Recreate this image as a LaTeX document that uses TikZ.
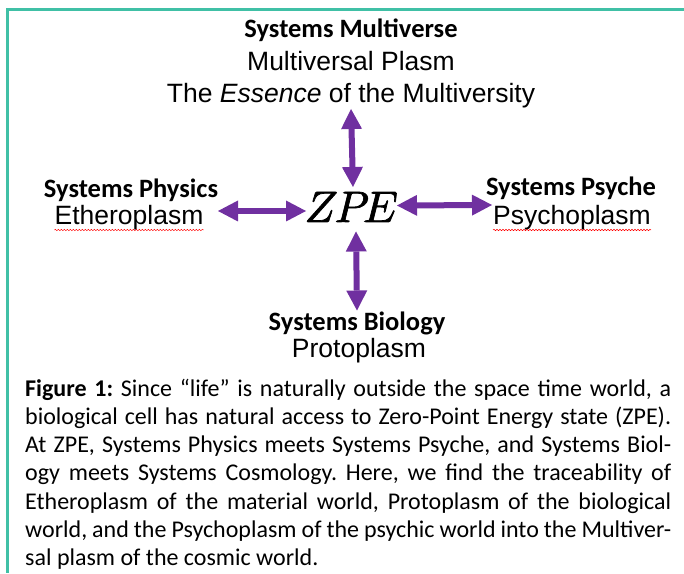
\documentclass[tikz,border=0pt]{standalone}
\usepackage{fontspec}
\setmainfont{Carlito}
\newfontfamily\arialf{Liberation Sans}
\newfontfamily\zpefont[FakeBold=1.6]{latinmodern-math.otf}
\usetikzlibrary{arrows.meta,decorations.pathmorphing}
\definecolor{zpurple}{RGB}{112,48,160}
\definecolor{framecol}{RGB}{64,192,166}
\tikzset{
  title/.style={font=\fontsize{26.5}{30}\selectfont\bfseries, inner sep=0pt, anchor=base},
  plasm/.style={font=\arialf\fontsize{26.5}{30}\selectfont, inner sep=0pt, anchor=base},
  dblarrow/.style={draw=zpurple, line width=6pt,
    {Triangle[width=21pt,length=20pt,line width=0pt]}-{Triangle[width=21pt,length=20pt,line width=0pt]}},
  spellwave/.style={draw=red, line width=0.5pt, decorate,
    decoration={snake, amplitude=0.7pt, segment length=3pt}}
}
\begin{document}
\frenchspacing
\begin{tikzpicture}[x=1pt,y=1pt]
\useasboundingbox (0,0) rectangle (684,573);
% frame
\draw[framecol, line width=2.5pt] (684,563.5) -- (7.5,563.5) -- (7.5,0);
% top
\node[title] (sm) at (351,535) {Systems Multiverse};
\node[plasm] (mp) at (351,502) {Multiversal Plasm};
\node[plasm] (ess) at (351,470) {The \textit{Essence} of the Multiversity};
% left
\node[title] (sphys) at (131,375) {Systems Physics};
\node[plasm] (eth) at (129,348) {Etheroplasm};
% right
\node[title] (spsy) at (571,377) {Systems Psyche};
\node[plasm] (psy) at (572,348) {Psychoplasm};
% bottom
\node[title] (sbio) at (357,243) {Systems Biology};
\node[plasm] (proto) at (359,216) {Protoplasm};
% centre
\node[font=\zpefont\fontsize{44}{50}\selectfont, inner sep=0pt, anchor=base] (zpe) at (350,351) {𝑍𝑃𝐸};
% arrow ends
\coordinate (uT) at (351,464);
\coordinate (uB) at (353,386);
\coordinate (dT) at (356,341.5);
\coordinate (dB) at (357,262.5);
\coordinate (lL) at (218,362);
\coordinate (lR) at (306,362);
\coordinate (rL) at (397,367.5);
\coordinate (rR) at (492,368);
\draw[dblarrow] (uT) -- (uB);
\draw[dblarrow] (dT) -- (dB);
\draw[dblarrow] (lL) -- (lR);
\draw[dblarrow] (rL) -- (rR);
% spell-check underlines
\pgfmathwidth{"\arialf\fontsize{26.5}{30}\selectfont Multiversal"}
\let\mvw\pgfmathresult
\draw[spellwave] ([yshift=-5pt]mp.base west) -- ++(\mvw pt,0);
\draw[spellwave] ([yshift=-5pt]eth.base west) -- ([yshift=-5pt]eth.base east);
\draw[spellwave] ([yshift=-5pt]psy.base west) -- ([yshift=-5pt]psy.base east);
% caption
\node[anchor=base west, inner sep=0pt, font=\fontsize{24}{28.3}\selectfont] (cap) at (25,177)
{\parbox[t]{646pt}{\frenchspacing\textbf{Figure 1:} Since “life” is naturally outside the space time world, a\linebreak
biological cell has natural access to Zero-Point Energy state (ZPE).\linebreak
At ZPE, Systems Physics meets Systems Psyche, and Systems Biol-\linebreak
ogy meets Systems Cosmology. Here, we find the traceability of\linebreak
Etheroplasm of the material world, Protoplasm of the biological\linebreak
world, and the Psychoplasm of the psychic world into the Multiver-\linebreak
sal plasm of the cosmic world.}};
\end{tikzpicture}
\end{document}
